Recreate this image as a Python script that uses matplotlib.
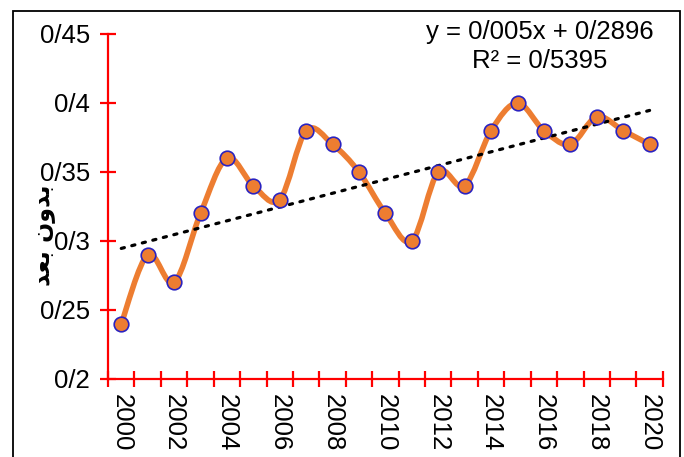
import numpy as np
import matplotlib
matplotlib.use("Agg")
import matplotlib.pyplot as plt
from matplotlib.path import Path
from matplotlib.patches import PathPatch, Rectangle
from matplotlib.ticker import FuncFormatter, FixedLocator

years = list(range(2000, 2021))
values = [0.24, 0.29, 0.27, 0.32, 0.36, 0.34, 0.33, 0.38, 0.37, 0.35, 0.32,
          0.30, 0.35, 0.34, 0.38, 0.40, 0.38, 0.37, 0.39, 0.38, 0.37]
trend_slope = 0.005
trend_intercept = 0.2896
r_squared = 0.5395
y_label = "\ufeaa\ufecc\ufe91 \ufee5\ufeed\ufeaa\ufe91"  # بدون بعد, shaped and in visual order

plt.rcParams["font.family"] = ["Liberation Sans", "DejaVu Sans"]

ORANGE = "#ED7D31"
RED = "#FF0000"
FS = 18.5


def persian_decimal(v, pos=None):
    return f"{v:g}".replace(".", "/")


def smooth_path(xs, ys):
    # Catmull-Rom style bezier, like a spreadsheet "smoothed line"
    pts = np.column_stack([xs, ys])
    verts = [pts[0]]
    codes = [Path.MOVETO]
    n = len(pts)
    for i in range(n - 1):
        p0 = pts[i - 1] if i > 0 else pts[i]
        p1 = pts[i]
        p2 = pts[i + 1]
        p3 = pts[i + 2] if i + 2 < n else pts[i + 1]
        c1 = p1 + (p2 - p0) / 6
        c2 = p2 - (p3 - p1) / 6
        verts += [c1, c2, p2]
        codes += [Path.CURVE4] * 3
    return Path(verts, codes)


fig = plt.figure(figsize=(6.84, 4.57), dpi=100)
ax = fig.add_axes([0.158, 0.1707, 0.811, 0.755])

x = np.arange(len(years))

ax.set_xlim(-0.5, len(years) - 0.5)
ax.set_ylim(0.2, 0.45)
line = PathPatch(smooth_path(x, np.array(values)), facecolor="none",
                 edgecolor=ORANGE, linewidth=4.0, capstyle="round",
                 joinstyle="round", zorder=2)
ax.add_patch(line)
ax.plot(x, values, linestyle="none", marker="o", markersize=10.5,
        markerfacecolor=ORANGE, markeredgecolor="#2A22C0",
        markeredgewidth=1.2, zorder=4)

# linear trend over category index 1..21
trend = trend_slope * (x + 1) + trend_intercept
ax.plot(x, trend, color="black", linestyle=(0, (1, 2.4)), linewidth=2.3,
        dash_capstyle="round", zorder=3)

ax.text(0.778, 1.006, f"y = {persian_decimal(trend_slope)}x + {persian_decimal(trend_intercept)}",
        transform=ax.transAxes, ha="center", va="center", fontsize=FS)
ax.text(0.778, 0.922, f"R² = {persian_decimal(r_squared)}",
        transform=ax.transAxes, ha="center", va="center", fontsize=FS)

# axes styling
for side in ("top", "right"):
    ax.spines[side].set_visible(False)
for side in ("left", "bottom"):
    ax.spines[side].set_color(RED)
    ax.spines[side].set_linewidth(1.6)

ax.set_yticks([0.2, 0.25, 0.3, 0.35, 0.4, 0.45])
ax.yaxis.set_major_formatter(FuncFormatter(persian_decimal))
ax.tick_params(axis="y", direction="inout", length=12, width=1.6,
               color=RED, labelsize=FS, pad=7)

ax.xaxis.set_major_locator(FixedLocator(x[::2]))
ax.set_xticklabels([str(y) for y in years[::2]], rotation=270)
ax.xaxis.set_minor_locator(FixedLocator(np.arange(-0.5, len(years), 1.0)))
ax.tick_params(axis="x", which="major", length=0, labelsize=FS, pad=11)
ax.tick_params(axis="x", which="minor", direction="inout", length=12,
               width=1.6, color=RED)

fig.text(0.063, 0.486, y_label, rotation=90, ha="center", va="center",
         fontsize=17, fontweight="bold", family=["DejaVu Sans"])

# outer frame around the chart
fig.patches.append(Rectangle((13 / 684, -0.1), (680 - 13) / 684, 1.1 - 11 / 457,
                             transform=fig.transFigure, fill=False,
                             edgecolor="black", linewidth=1.3))

fig.savefig("out.png", dpi=100)
